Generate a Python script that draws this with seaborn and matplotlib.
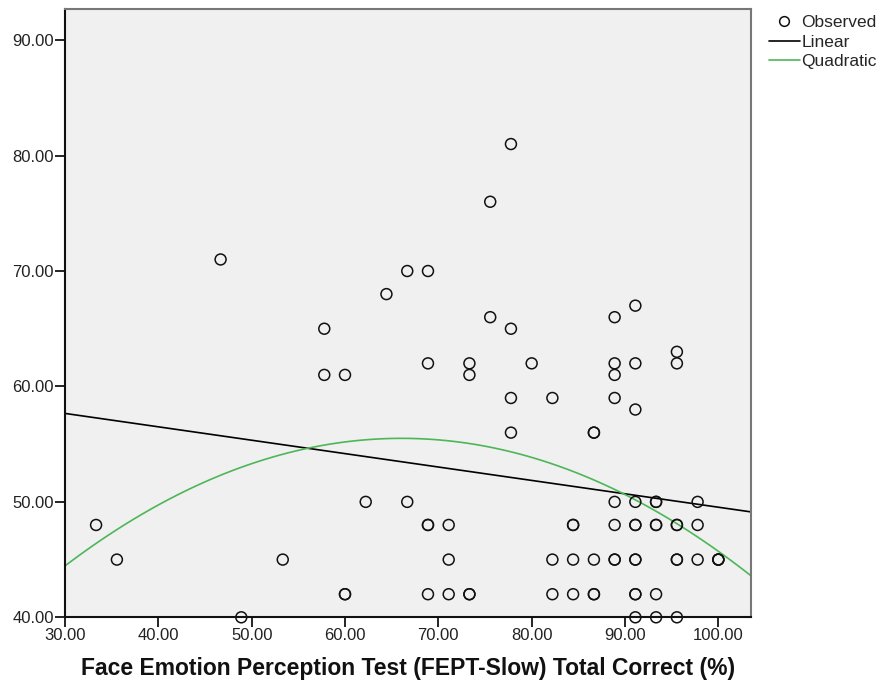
import numpy as np
import pandas as pd
import matplotlib
matplotlib.use("Agg")
import matplotlib.pyplot as plt
import seaborn as sns
from matplotlib.lines import Line2D

# ---- data (FEPT-Slow % correct vs score); overlapping cases repeated ----
fept_x = [33.33, 35.56, 46.67, 48.89, 53.33,
          57.78, 57.78,
          60.00, 60.00, 60.00,
          62.22, 64.44,
          66.67, 66.67,
          68.89, 68.89, 68.89, 68.89, 68.89,
          71.11, 71.11, 71.11,
          73.33, 73.33, 73.33, 73.33,
          75.56, 75.56,
          77.78, 77.78, 77.78, 77.78,
          80.00,
          82.22, 82.22, 82.22,
          84.44, 84.44, 84.44, 84.44,
          86.67, 86.67, 86.67, 86.67, 86.67,
          88.89, 88.89, 88.89, 88.89, 88.89, 88.89, 88.89, 88.89,
          91.11, 91.11, 91.11, 91.11, 91.11, 91.11, 91.11, 91.11, 91.11, 91.11, 91.11,
          93.33, 93.33, 93.33, 93.33, 93.33, 93.33,
          95.56, 95.56, 95.56, 95.56, 95.56, 95.56, 95.56,
          97.78, 97.78, 97.78,
          100.00, 100.00, 100.00]
score_y = [48, 45, 71, 40, 45,
           65, 61,
           61, 42, 42,
           50, 68,
           70, 50,
           70, 62, 48, 48, 42,
           48, 45, 42,
           62, 61, 42, 42,
           76, 66,
           81, 65, 59, 56,
           62,
           59, 45, 42,
           48, 48, 45, 42,
           56, 56, 45, 42, 42,
           66, 62, 61, 59, 50, 48, 45, 45,
           67, 62, 58, 50, 48, 48, 45, 45, 42, 42, 40,
           50, 50, 48, 48, 42, 40,
           63, 62, 48, 48, 45, 45, 40,
           50, 48, 45,
           45, 45, 45]

x_ticks = [30, 40, 50, 60, 70, 80, 90, 100]
y_ticks = [40, 50, 60, 70, 80, 90]
x_label = "Face Emotion Perception Test (FEPT-Slow) Total Correct (%)"
legend_labels = ["Observed", "Linear", "Quadratic"]

df = pd.DataFrame({"x": fept_x, "y": score_y})

sns.set_theme(style="white")
plt.rcParams["font.family"] = ["Liberation Sans", "DejaVu Sans"]

fig = plt.figure(figsize=(8.8, 6.91), dpi=100)
ax = fig.add_axes([65 / 880, 1 - 617.3 / 691, (751 - 65) / 880, (617.3 - 9) / 691])
ax.set_facecolor("#F0F0F0")

xlim = (30, 103.5)
ylim = (40, 92.7)
ax.set_xlim(*xlim)
ax.set_ylim(*ylim)

green = "#4DB657"
sns.regplot(data=df, x="x", y="y", order=1, ci=None, scatter=False,
            truncate=False, ax=ax, line_kws=dict(color="black", lw=1.2))
sns.regplot(data=df, x="x", y="y", order=2, ci=None, scatter=False,
            truncate=False, ax=ax, line_kws=dict(color=green, lw=1.2))
sns.scatterplot(data=df, x="x", y="y", marker="o", s=62, facecolor="none",
                edgecolor="#111111", linewidth=1.1, ax=ax, zorder=3, clip_on=False)

ax.set_xlim(*xlim)
ax.set_ylim(*ylim)
ax.set_xticks(x_ticks)
ax.set_yticks(y_ticks)
ax.set_xticklabels([f"{v:.2f}" for v in x_ticks])
ax.set_yticklabels([f"{v:.2f}" for v in y_ticks])
ax.tick_params(axis="both", direction="out", length=7, width=1.2, color="black",
               labelsize=12, labelcolor="#222222", pad=1,
               bottom=True, left=True)
ax.set_ylabel("")
ax.set_xlabel(x_label, fontsize=16.5, fontweight="bold", labelpad=10, color="#111111")

for side in ["left", "bottom"]:
    ax.spines[side].set_color("#111111")
    ax.spines[side].set_linewidth(1.5)
for side in ["top", "right"]:
    ax.spines[side].set_color("#777777")
    ax.spines[side].set_linewidth(1.5)

handles = [
    Line2D([], [], marker="o", linestyle="none", markerfacecolor="none",
           markeredgecolor="#111111", markersize=7, markeredgewidth=1.1),
    Line2D([], [], color="black", lw=1.2),
    Line2D([], [], color=green, lw=1.2),
]
fig.legend(handles, legend_labels, loc="upper left", bbox_to_anchor=(0.874, 0.978),
           frameon=False, fontsize=12.5, handlelength=1.75, handletextpad=0.12,
           labelspacing=0.25, borderpad=0, borderaxespad=0)

fig.savefig("out.png", dpi=100, facecolor="white")
